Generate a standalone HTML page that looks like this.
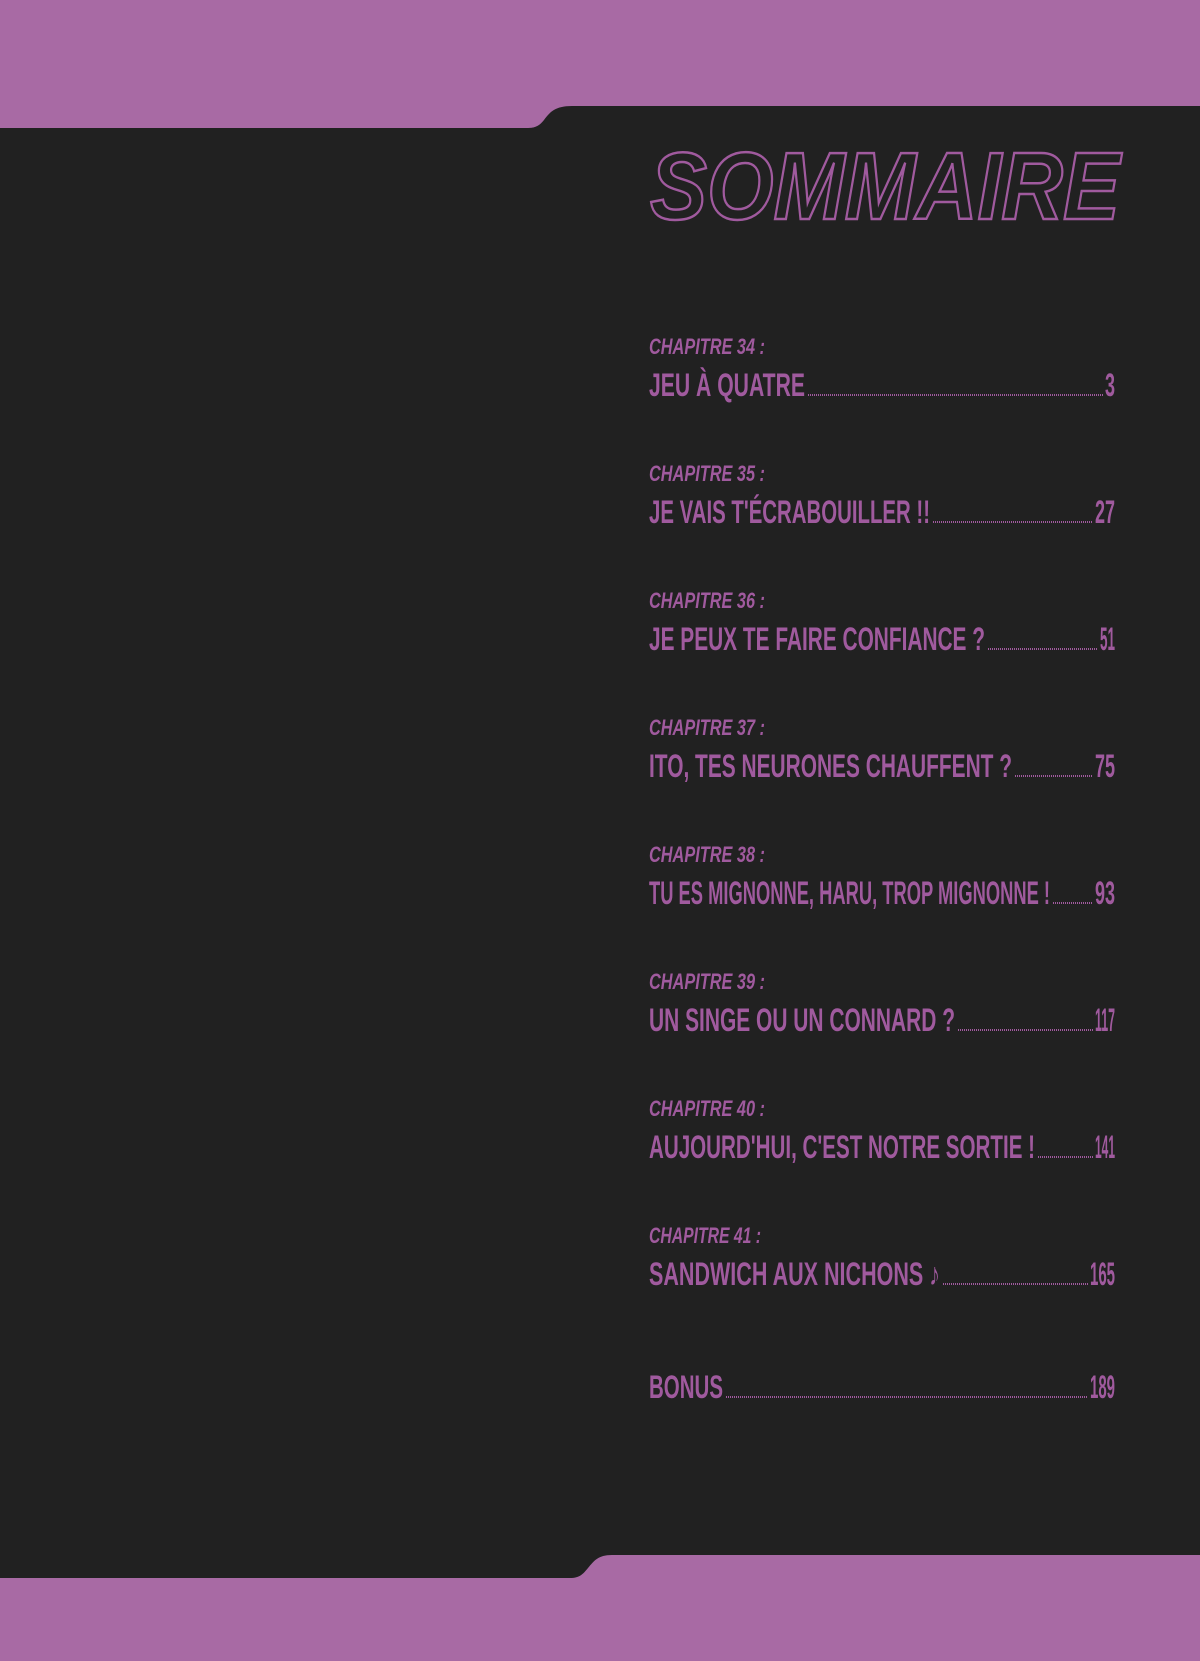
<!DOCTYPE html>
<html><head><meta charset="utf-8"><style>
html,body{margin:0;padding:0;background:#212121;}
svg{display:block}
</style></head><body>
<svg width="1200" height="1661" viewBox="0 0 1200 1661" xmlns="http://www.w3.org/2000/svg">
<rect width="1200" height="1661" fill="#212121"/>
<path d="M0 0 H1200 V106 H572 C555 106 550 112 544 120 C540 125 536 128 528 128 H0 Z" fill="#a86aa4"/>
<path d="M0 1661 H1200 V1555 H612 C598 1555 594 1561 588 1568 C583 1574 580 1578 570 1578 H0 Z" fill="#a86aa4"/>
<text x="650" y="219" font-family="Liberation Sans, sans-serif" font-weight="bold" font-style="italic" font-size="96" fill="none" stroke="#a05a9e" stroke-width="2.5" textLength="470" lengthAdjust="spacingAndGlyphs">SOMMAIRE</text>
<g font-family="Liberation Sans, sans-serif" font-weight="bold" fill="#a05a9e">
<g font-style="italic" font-size="22">
<text x="649" y="354" textLength="116" lengthAdjust="spacingAndGlyphs">CHAPITRE 34 :</text>
<text x="649" y="481" textLength="116" lengthAdjust="spacingAndGlyphs">CHAPITRE 35 :</text>
<text x="649" y="608" textLength="116" lengthAdjust="spacingAndGlyphs">CHAPITRE 36 :</text>
<text x="649" y="735" textLength="116" lengthAdjust="spacingAndGlyphs">CHAPITRE 37 :</text>
<text x="649" y="862" textLength="116" lengthAdjust="spacingAndGlyphs">CHAPITRE 38 :</text>
<text x="649" y="989" textLength="116" lengthAdjust="spacingAndGlyphs">CHAPITRE 39 :</text>
<text x="649" y="1116" textLength="116" lengthAdjust="spacingAndGlyphs">CHAPITRE 40 :</text>
<text x="649" y="1243" textLength="112" lengthAdjust="spacingAndGlyphs">CHAPITRE 41 :</text>
</g>
<g font-size="32">
<text x="649" y="396" textLength="156" lengthAdjust="spacingAndGlyphs">JEU À QUATRE</text>
<text x="649" y="523" textLength="281" lengthAdjust="spacingAndGlyphs">JE VAIS T'ÉCRABOUILLER !!</text>
<text x="649" y="650" textLength="336" lengthAdjust="spacingAndGlyphs">JE PEUX TE FAIRE CONFIANCE ?</text>
<text x="649" y="777" textLength="363" lengthAdjust="spacingAndGlyphs">ITO, TES NEURONES CHAUFFENT ?</text>
<text x="649" y="904" textLength="401" lengthAdjust="spacingAndGlyphs">TU ES MIGNONNE, HARU, TROP MIGNONNE !</text>
<text x="649" y="1031" textLength="306" lengthAdjust="spacingAndGlyphs">UN SINGE OU UN CONNARD ?</text>
<text x="649" y="1158" textLength="386" lengthAdjust="spacingAndGlyphs">AUJOURD'HUI, C'EST NOTRE SORTIE !</text>
<text x="649" y="1285" textLength="291" lengthAdjust="spacingAndGlyphs">SANDWICH AUX NICHONS ♪</text>
<text x="649" y="1398" textLength="74" lengthAdjust="spacingAndGlyphs">BONUS</text>
<g text-anchor="end">
<text x="1115" y="396" textLength="10" lengthAdjust="spacingAndGlyphs">3</text>
<text x="1115" y="523" textLength="20" lengthAdjust="spacingAndGlyphs">27</text>
<text x="1115" y="650" textLength="15" lengthAdjust="spacingAndGlyphs">51</text>
<text x="1115" y="777" textLength="20" lengthAdjust="spacingAndGlyphs">75</text>
<text x="1115" y="904" textLength="20" lengthAdjust="spacingAndGlyphs">93</text>
<text x="1115" y="1031" textLength="20" lengthAdjust="spacingAndGlyphs">117</text>
<text x="1115" y="1158" textLength="20" lengthAdjust="spacingAndGlyphs">141</text>
<text x="1115" y="1285" textLength="25" lengthAdjust="spacingAndGlyphs">165</text>
<text x="1115" y="1398" textLength="25" lengthAdjust="spacingAndGlyphs">189</text>
</g>
</g>
</g>
<g stroke="#a05a9e" stroke-width="2" stroke-dasharray="1 1">
<line x1="808" y1="395" x2="1103" y2="395"/>
<line x1="933" y1="522" x2="1093" y2="522"/>
<line x1="988" y1="649" x2="1098" y2="649"/>
<line x1="1015" y1="776" x2="1093" y2="776"/>
<line x1="1053" y1="903" x2="1093" y2="903"/>
<line x1="958" y1="1030" x2="1093" y2="1030"/>
<line x1="1038" y1="1157" x2="1093" y2="1157"/>
<line x1="943" y1="1284" x2="1088" y2="1284"/>
<line x1="726" y1="1397" x2="1088" y2="1397"/>
</g>
</svg>
</body></html>
